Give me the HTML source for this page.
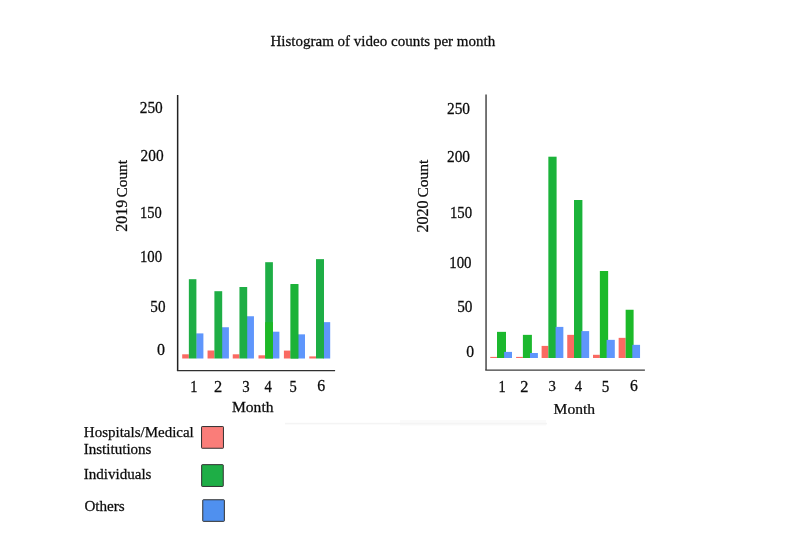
<!DOCTYPE html>
<html><head><meta charset="utf-8"><title>Histogram of video counts per month</title>
<style>
html,body{margin:0;padding:0;background:#fff;}
body{width:800px;height:551px;overflow:hidden;}
svg{display:block;}
text{font-family:"Liberation Serif",serif;font-size:15px;fill:#0c0c0c;stroke:#0c0c0c;stroke-width:0.25px;}
</style></head><body>
<svg width="800" height="551" viewBox="0 0 800 551">
<rect width="800" height="551" fill="#fff"/>
<rect x="400" y="420" width="146" height="5.5" fill="#fafafa"/>
<rect x="285" y="422.8" width="262" height="1.6" fill="#f4f4f4"/>
<rect x="182.2" y="354.3" width="6.65" height="4.2" fill="#fa6a62"/>
<rect x="196.2" y="333.4" width="7.2" height="25.1" fill="#5f96fc"/>
<rect x="188.85" y="279.2" width="7.55" height="79.3" fill="#1eae45"/>
<rect x="207.55" y="350.5" width="6.85" height="8" fill="#fa6a62"/>
<rect x="221.9" y="327.25" width="7" height="31.25" fill="#5f96fc"/>
<rect x="214.4" y="291.2" width="7.8" height="67.3" fill="#1eae45"/>
<rect x="232.75" y="354.3" width="6.7" height="4.2" fill="#fa6a62"/>
<rect x="246.7" y="316.25" width="7.25" height="42.25" fill="#5f96fc"/>
<rect x="239.45" y="287" width="7.75" height="71.5" fill="#1eae45"/>
<rect x="258.5" y="355.3" width="6.7" height="3.2" fill="#fa6a62"/>
<rect x="272.5" y="331.7" width="6.9" height="26.8" fill="#5f96fc"/>
<rect x="265.2" y="262.2" width="7.7" height="96.3" fill="#1eae45"/>
<rect x="283.9" y="350.6" width="6.7" height="7.9" fill="#fa6a62"/>
<rect x="297.8" y="334.35" width="7.2" height="24.15" fill="#5f96fc"/>
<rect x="290.6" y="284.1" width="7.7" height="74.4" fill="#1eae45"/>
<rect x="309.3" y="356.4" width="6.7" height="2.1" fill="#fa6a62"/>
<rect x="323.3" y="322.15" width="6.9" height="36.35" fill="#5f96fc"/>
<rect x="316" y="259.15" width="8" height="99.35" fill="#1eae45"/>
<rect x="265.2" y="322.2" width="7.7" height="36.3" fill="#1db826"/>
<rect x="290.6" y="284.1" width="7.7" height="74.4" fill="#1cb238"/>
<rect x="490.25" y="356.9" width="6.75" height="1.1" fill="#fa6a62"/>
<rect x="497" y="331.85" width="9" height="26.15" fill="#1cb82e"/>
<rect x="504.1" y="351.9" width="7.9" height="6.1" fill="#5f96fc"/>
<rect x="516.1" y="356.9" width="6.8" height="1.1" fill="#fa6a62"/>
<rect x="522.9" y="334.85" width="9" height="23.15" fill="#1cb82e"/>
<rect x="530" y="353" width="7.9" height="5" fill="#5f96fc"/>
<rect x="541.6" y="345.9" width="6.75" height="12.1" fill="#fa6a62"/>
<rect x="548.35" y="156.7" width="8.25" height="201.3" fill="#1bb33a"/>
<rect x="555.6" y="326.9" width="7.75" height="31.1" fill="#5f96fc"/>
<rect x="567.25" y="334.85" width="6.75" height="23.15" fill="#fa6a62"/>
<rect x="574" y="200" width="8.4" height="158" fill="#1bb33a"/>
<rect x="581.35" y="331.1" width="7.8" height="26.9" fill="#5f96fc"/>
<rect x="593" y="354.8" width="6.85" height="3.2" fill="#fa6a62"/>
<rect x="599.85" y="271" width="8.3" height="87" fill="#1cba29"/>
<rect x="606.6" y="339.85" width="8.2" height="18.15" fill="#5f96fc"/>
<rect x="618.65" y="337.85" width="7" height="20.15" fill="#fa6a62"/>
<rect x="625.65" y="309.75" width="7.95" height="48.25" fill="#1cba29"/>
<rect x="632.3" y="344.85" width="7.75" height="13.15" fill="#5f96fc"/>
<path d="M177.65 95.1V370.6" fill="none" stroke="#222" stroke-width="1.5"/>
<path d="M176.9 370.6H335.1" fill="none" stroke="#303030" stroke-width="1.45"/>
<path d="M486.05 94.5V370.1" fill="none" stroke="#424242" stroke-width="1.45"/>
<path d="M485.25 370.15H644.9" fill="none" stroke="#3c3c3c" stroke-width="1.35"/>
<text transform="translate(270.449 46.3) scale(1.002)">Histogram of video counts per month</text>
<text transform="translate(139.765 113.341) scale(1.025 1.093)">250</text>
<text transform="translate(140.565 161.49) scale(1.025 1.098)">200</text>
<text transform="translate(139.921 218.345) scale(0.968 1.054)">150</text>
<text transform="translate(139.896 262.244) scale(0.987 1.059)">100</text>
<text transform="translate(150.322 312.092) scale(1.01 1.078)">50</text>
<text transform="translate(156.896 354.994) scale(1.068 1.059)">0</text>
<text transform="translate(190.358 391.95) scale(0.96 1.065)">1</text>
<text transform="translate(214.096 391.95) scale(1.09 1.065)">2</text>
<text transform="translate(242.187 391.846) scale(0.99 1.044)">3</text>
<text transform="translate(264.485 391.75) scale(0.977 1.045)">4</text>
<text transform="translate(289.607 391.743) scale(0.966 1.069)">5</text>
<text transform="translate(317.344 390.846) scale(1.06 1.044)">6</text>
<text transform="translate(231.964 412.498) scale(1.039 1.019)">Month</text>
<text transform="translate(446.963 113.894) scale(1.028 1.059)">250</text>
<text transform="translate(446.963 162.094) scale(1.028 1.059)">200</text>
<text transform="translate(449.896 217.844) scale(0.987 1.059)">150</text>
<text transform="translate(449.19 267.846) scale(0.992 1.044)">100</text>
<text transform="translate(457.163 312.494) scale(1.021 1.059)">50</text>
<text transform="translate(466.258 357.096) scale(1.045 1.044)">0</text>
<text transform="translate(498.558 391.5) scale(0.96 1.08)">1</text>
<text transform="translate(520.271 392.25) scale(1.09 1.055)">2</text>
<text transform="translate(548.442 391.396) scale(0.983 1.039)">3</text>
<text transform="translate(574.735 391.2) scale(0.977 1.03)">4</text>
<text transform="translate(601.775 392.346) scale(1.006 1.045)">5</text>
<text transform="translate(629.903 391.244) scale(1.045 1.059)">6</text>
<text transform="translate(553.564 413.75) scale(1.04 0.995)">Month</text>
<text transform="translate(83.8 437) scale(1)">Hospitals/Medical</text>
<text transform="translate(83.698 454) scale(1.005)">Institutions</text>
<text transform="translate(83.697 479.4) scale(1.005)">Individuals</text>
<text transform="translate(84.395 511) scale(1.009)">Others</text>
<text transform="translate(126.847 231.691) rotate(-90) scale(1.028 1.03)"><tspan font-size="15.585">2019</tspan> <tspan x="33.206">Count</tspan></text>
<text transform="translate(427.547 232.594) rotate(-90) scale(1.036 1.03)"><tspan font-size="15.531">2020</tspan> <tspan x="33.806">Count</tspan></text>
<rect x="201.55" y="426.55" width="21.9" height="21.7" rx="0.6" fill="#fa7d79" stroke="#303030" stroke-width="1"/>
<rect x="201.65" y="464.65" width="21.6" height="21.8" rx="0.6" fill="#1eae46" stroke="#303030" stroke-width="1"/>
<rect x="202.75" y="499.75" width="21.6" height="21.6" rx="0.6" fill="#4f90ef" stroke="#303030" stroke-width="1"/>
</svg>
</body></html>
